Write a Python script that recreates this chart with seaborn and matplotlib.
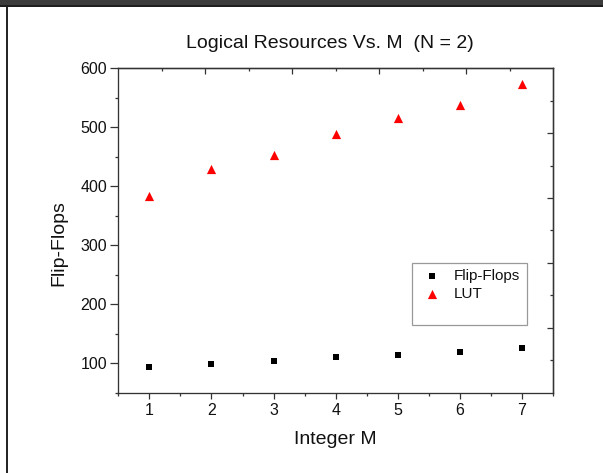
import matplotlib
matplotlib.use('Agg')
import matplotlib.pyplot as plt
import seaborn as sns
import pandas as pd
from matplotlib.ticker import MultipleLocator, FixedLocator, NullFormatter
from matplotlib.patches import Rectangle
from matplotlib.lines import Line2D

# ---- data ----
M = [1, 2, 3, 4, 5, 6, 7]
flip_flops = [93, 99, 103, 111, 114, 119, 126]
lut = [384, 429, 453, 489, 516, 538, 573]
series_names = ["Flip-Flops", "LUT"]
title_text = "Logical Resources Vs. M  (N = 2)"
x_label = "Integer M"
y_label = "Flip-Flops"
y_ticks = [100, 200, 300, 400, 500, 600]
x_ticks = [1, 2, 3, 4, 5, 6, 7]

sns.set_style('white')
plt.rcParams['font.family'] = ['Liberation Sans', 'DejaVu Sans']

W, H = 603, 473
fig = plt.figure(figsize=(W / 100, H / 100), dpi=100)
fig.patch.set_facecolor('white')
ax = fig.add_axes([118.3 / W, 1 - 392.7 / H, 434.7 / W, 324.4 / H])

df_ff = pd.DataFrame({'M': M, 'value': flip_flops})
df_lut = pd.DataFrame({'M': M, 'value': lut})
sns.scatterplot(data=df_ff, x='M', y='value', marker='s', color='black', s=24,
                linewidth=0, ax=ax, label=series_names[0])
sns.scatterplot(data=df_lut, x='M', y='value', marker='^', color='#ff0000', s=44,
                linewidth=0, ax=ax, label=series_names[1])

xmin, xmax = 0.5, 7.5
ymin, ymax = 50, 600
ax.set_xlim(xmin, xmax)
ax.set_ylim(ymin, ymax)
ax.set_xticks(x_ticks)
ax.set_yticks(y_ticks)
ax.xaxis.set_minor_locator(MultipleLocator(0.5))
ax.yaxis.set_minor_locator(MultipleLocator(50))

spine_c = '#333333'
for sp in ax.spines.values():
    sp.set_color(spine_c)
    sp.set_linewidth(0.95)
    sp.set_visible(True)

ax.tick_params(axis='x', which='major', direction='out', length=4.3, width=0.9,
               color=spine_c, pad=3.2, labelsize=11.5, labelcolor='#111111',
               bottom=True, top=False)
ax.tick_params(axis='x', which='minor', direction='out', length=2.0, width=0.9,
               color=spine_c, bottom=True, top=False)
ax.tick_params(axis='y', which='major', direction='out', length=5.8, width=0.9,
               color=spine_c, pad=2.2, labelsize=11.5, labelcolor='#111111',
               left=True, right=False)
ax.tick_params(axis='y', which='minor', direction='out', length=2.4, width=0.9,
               color=spine_c, left=True, right=False)

# top and right axes with their own (unlabelled) scales
secx = ax.secondary_xaxis('top', functions=(lambda x: (x - xmin) / (xmax - xmin),
                                            lambda t: t * (xmax - xmin) + xmin))
secx.set_xticks([0.2, 0.4, 0.6, 0.8])
secx.xaxis.set_minor_locator(FixedLocator([0.1, 0.3, 0.5, 0.7, 0.9]))
secx.xaxis.set_major_formatter(NullFormatter())
secx.tick_params(which='major', direction='in', length=4.3, width=0.9, color=spine_c)
secx.tick_params(which='minor', direction='in', length=2.5, width=0.9, color=spine_c)
secx.spines['top'].set_color(spine_c)
secx.spines['top'].set_linewidth(0.95)

secy = ax.secondary_yaxis('right', functions=(lambda y: (y - ymin) / (ymax - ymin),
                                              lambda t: t * (ymax - ymin) + ymin))
secy.set_yticks([0.2, 0.4, 0.6, 0.8])
secy.yaxis.set_minor_locator(FixedLocator([0.1, 0.3, 0.5, 0.7, 0.9]))
secy.yaxis.set_major_formatter(NullFormatter())
secy.tick_params(which='major', direction='in', length=4.3, width=0.9, color=spine_c)
secy.tick_params(which='minor', direction='in', length=2.2, width=0.9, color=spine_c)
secy.spines['right'].set_color(spine_c)
secy.spines['right'].set_linewidth(0.95)

ax.set_xlabel(x_label, fontsize=14, color='#111111')
ax.set_ylabel(y_label, fontsize=14, color='#111111')
ax.xaxis.set_label_coords(0.5, -0.118)
ax.yaxis.set_label_coords(-0.118, 0.46)

fig.text(330 / W, 1 - 43 / H, title_text, ha='center', va='center', fontsize=14,
         color='#111111')

# legend with an empty trailing row (as in the reference box)
handles, labels = ax.get_legend_handles_labels()
blank = Line2D([], [], linestyle='none', marker=None)
leg = ax.legend(handles + [blank], labels + [' '], loc='upper left',
                bbox_to_anchor=(0.675, 0.4007), borderaxespad=0, frameon=True,
                fancybox=False, edgecolor='#808080', fontsize=11,
                handlelength=1.73, handletextpad=0.57, borderpad=0.44,
                labelspacing=0.21)
leg.get_frame().set_linewidth(0.9)
for t in leg.get_texts():
    t.set_color('#111111')

# window frame decoration (top bar and left edge)
fig.add_artist(Rectangle((0, 1 - 7 / H), 1, 7 / H, transform=fig.transFigure,
                         facecolor='#3c3c3c', edgecolor='none'))
fig.add_artist(Rectangle((0, 1 - 7 / H), 1, 2 / H, transform=fig.transFigure,
                         facecolor='#1e1e1e', edgecolor='none'))
fig.add_artist(Rectangle((5.5 / W, 0), 2.6 / W, 1 - 7 / H, transform=fig.transFigure,
                         facecolor='#262626', edgecolor='none'))

fig.savefig('out.png', dpi=100)
